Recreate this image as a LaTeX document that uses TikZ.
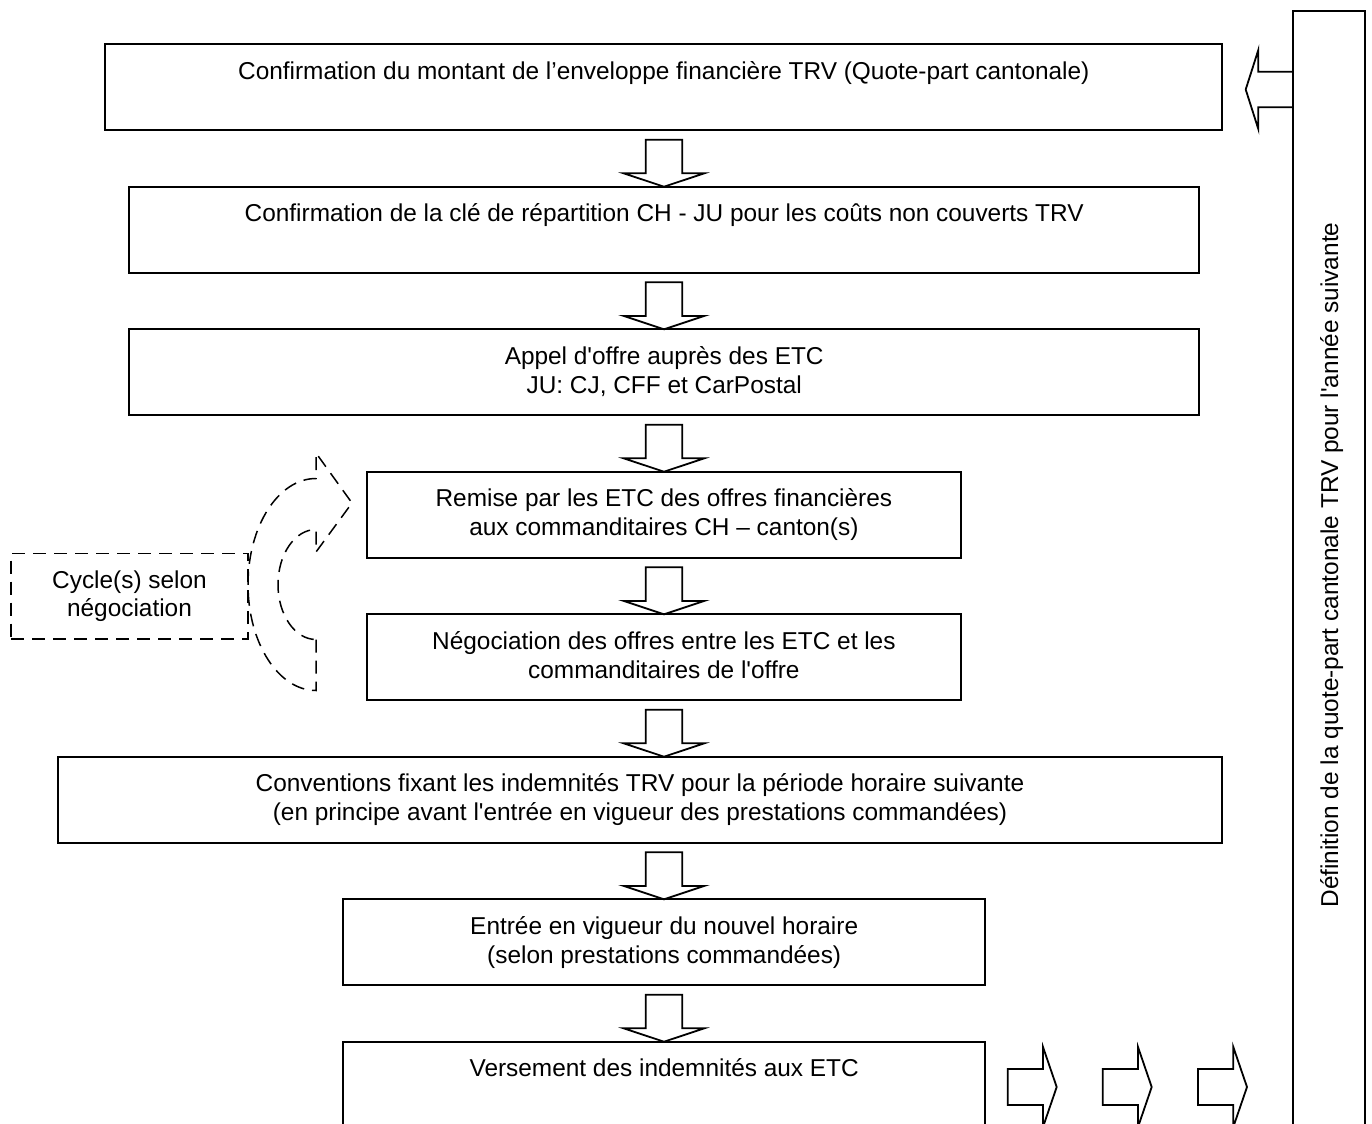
\documentclass[tikz,border=0pt]{standalone}
\usepackage{fontspec}
\setmainfont{Liberation Sans}[Ligatures=TeXOff]
\usetikzlibrary{calc}

\tikzset{
	box/.style = {draw, line width = 1pt, rectangle, inner sep = 0pt, outer sep = 0pt},
	boxtext/.style = {anchor = north, align = center, inner sep = 0pt, font = \fontsize{12.2}{14.5}\selectfont},
	blockarrow/.style = {draw, line width = 0.9pt, line join = miter},
	dashline/.style = {line width = 0.75pt, dash pattern = on 6.5pt off 4pt},
}

% Block arrow from one step down to the next
\newcommand{\blockdown}[2]{
	\draw [blockarrow] ($(#1.south -| axis)+(-18.3,9.5)$) -- ($(#2.north -| axis)+(-18.3,-13.4)$)
		-- ($(#2.north -| axis)+(-40.3,-13.4)$) -- (#2.north -| axis) -- ($(#2.north -| axis)+(40.3,-13.4)$)
		-- ($(#2.north -| axis)+(18.3,-13.4)$) -- ($(#1.south -| axis)+(18.3,9.5)$) -- cycle;
}

\begin{document}
\begin{tikzpicture}[x = 0.5pt, y = -0.5pt]
	
	\useasboundingbox (0,0) rectangle (1372,1124);
	\clip (0,0) rectangle (1372,1124);
	\coordinate (axis) at (664,0);
	
	%% STEPS
	
	% Boxes
	\node [box, minimum width = 558.5pt, minimum height = 43pt] (b1) at (663.8,87.3) {};
	\node [box, minimum width = 534.9pt, minimum height = 43pt] (b2) at (664.2,229.7) {};
	\node [box, minimum width = 534.9pt, minimum height = 43pt] (b3) at (664.2,372.3) {};
	\node [box, minimum width = 297.2pt, minimum height = 43pt] (b4) at (663.9,514.7) {};
	\node [box, minimum width = 297.2pt, minimum height = 43pt] (b5) at (663.9,657.3) {};
	\node [box, minimum width = 582.3pt, minimum height = 43pt] (b6) at (640,799.7) {};
	\node [box, minimum width = 320.9pt, minimum height = 43pt] (b7) at (664.2,942.3) {};
	\node [box, minimum width = 320.9pt, minimum height = 43pt] (b8) at (664.2,1084.7) {};
	
	% Texts
	\node [boxtext] (t1) at ($(b1.north)+(0,14.2)$) {\strut Confirmation du montant de l’enveloppe financière TRV (Quote-part cantonale)};
	\node [boxtext] (t2) at ($(b2.north)+(0,14.2)$) {\strut Confirmation de la clé de répartition CH - JU pour les coûts non couverts TRV};
	\node [boxtext] (t3) at ($(b3.north)+(0,14.2)$) {\strut Appel d'offre auprès des ETC\\JU: CJ, CFF et CarPostal};
	\node [boxtext] (t4) at ($(b4.north)+(0,14.2)$) {\strut Remise par les ETC des offres financières\\aux commanditaires CH – canton(s)};
	\node [boxtext] (t5) at ($(b5.north)+(0,14.2)$) {\strut Négociation des offres entre les ETC et les\\commanditaires de l'offre};
	\node [boxtext] (t6) at ($(b6.north)+(0,14.2)$) {\strut Conventions fixant les indemnités TRV pour la période horaire suivante\\(en principe avant l'entrée en vigueur des prestations commandées)};
	\node [boxtext] (t7) at ($(b7.north)+(0,14.2)$) {\strut Entrée en vigueur du nouvel horaire\\(selon prestations commandées)};
	\node [boxtext] (t8) at ($(b8.north)+(0,14.2)$) {\strut Versement des indemnités aux ETC};
	
	% Arrows between steps
	\foreach \a/\b in {b1/b2, b2/b3, b3/b4, b4/b5, b5/b6, b6/b7, b7/b8}
	{
		\blockdown{\a}{\b}
	}
	
	%% NEXT YEAR
	
	\node [box, anchor = north, minimum width = 35.85pt, minimum height = 590pt] (bar) at (1329.2,10.7) {};
	\node [boxtext, anchor = center, rotate = 90] (bartext) at (1331.7,565) {Définition de la quote-part cantonale TRV pour l'année suivante};
	
	% Arrow into the first step
	\coordinate (bartip) at (1245.7,89.5);
	\draw [blockarrow] ($(bartip -| bar.west)+(0,-17.8)$) -- ($(bartip)+(12.6,-17.8)$) -- ($(bartip)+(12.6,-39.5)$)
		-- (bartip) -- ($(bartip)+(12.6,39.5)$) -- ($(bartip)+(12.6,17.8)$) -- ($(bartip -| bar.west)+(0,17.8)$);
	
	% Arrows towards the next year
	\foreach \x in {1007.7, 1102.7, 1198}
	{
		\draw [blockarrow] (\x,1069) -- (\x+35.3,1069) -- (\x+35.3,1047) -- (\x+49,1087)
			-- (\x+35.3,1127) -- (\x+35.3,1105) -- (\x,1105) -- cycle;
	}
	
	%% NEGOTIATION CYCLE
	
	\node [box, dashline, minimum width = 118.5pt, minimum height = 42.85pt, align = center, font = \fontsize{12.2}{14}\selectfont] (cyclebox) at (129.5,596.2) {Cycle(s) selon\\négociation};
	
	% Curved arrow
	\coordinate (loop) at (316,584.5);
	\draw [dashline] ($(loop)+(0,55)$) -- ($(loop)+(0,106)$) arc [start angle = 90, end angle = 270, x radius = 68, y radius = 106]
		-- ($(loop)+(0,-131.5)$) -- ($(loop)+(36,-81.5)$) -- ($(loop)+(0,-32.5)$) -- ($(loop)+(0,-55)$)
		arc [start angle = 270, end angle = 90, x radius = 38, y radius = 55] -- cycle;
	
\end{tikzpicture}
\end{document}
